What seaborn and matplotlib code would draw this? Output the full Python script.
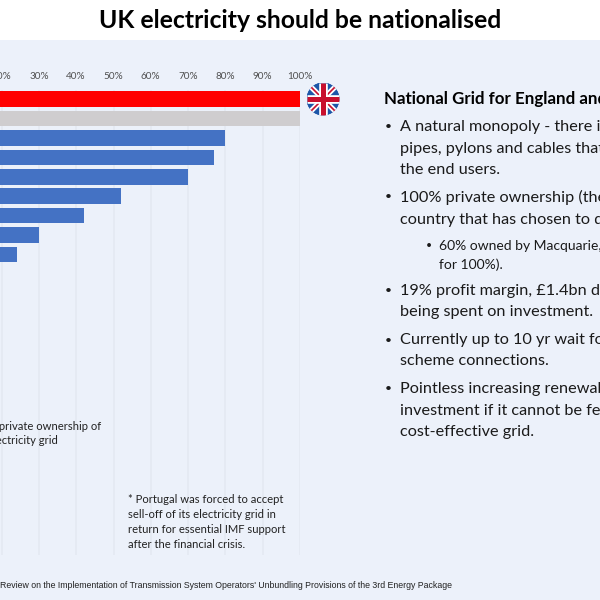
import matplotlib
matplotlib.use("Agg")
import matplotlib.pyplot as plt
from matplotlib.patches import Circle
import numpy as np
import pandas as pd
import seaborn as sns

# Category names lie off the left edge of the reference, so rows are numbered.
categories = [f"Country {i:02d}" for i in range(1, 25)]
values = [100, 100, 80, 77, 70, 52, 42, 30, 24] + [0] * 15
bar_colors = ["#FF0000", "#CFCDCF"] + ["#4472C4"] * 22
x_ticks = [0, 10, 20, 30, 40, 50, 60, 70, 80, 90, 100]
x_labels = [f"{t}%" for t in x_ticks]

title = "UK electricity should be nationalised"
heading = "National Grid for England and Wales"
note_left = "% private ownership of\nelectricity grid"
note_portugal = ("* Portugal was forced to accept\nsell-off of its electricity grid in\n"
                 "return for essential IMF support\nafter the financial crisis.")
source = ("Review on the Implementation of Transmission System Operators' "
          "Unbundling Provisions of the 3rd Energy Package")
MAIN, SUB = 11.7, 10.0
bullets = [
    (400, 127, MAIN, "A natural monopoly - there is only one set of", True),
    (400, 149, MAIN, "pipes, pylons and cables that connect to", False),
    (400, 170, MAIN, "the end users.", False),
    (400, 197, MAIN, "100% private ownership (the only major", True),
    (400, 219, MAIN, "country that has chosen to do so).", False),
    (439, 246, SUB, "60% owned by Macquarie, which has bid", True),
    (439, 265, SUB, "for 100%).", False),
    (400, 291, MAIN, "19% profit margin, £1.4bn dividends, too little", True),
    (400, 312, MAIN, "being spent on investment.", False),
    (400, 340, MAIN, "Currently up to 10 yr wait for new", True),
    (400, 361, MAIN, "scheme connections.", False),
    (400, 389, MAIN, "Pointless increasing renewable energy", True),
    (400, 411, MAIN, "investment if it cannot be fed into a", False),
    (400, 432, MAIN, "cost-effective grid.", False),
]

BG = "#ECF1FA"
FONT = ["Lato", "DejaVu Sans"]
sns.set_theme(style="white")
plt.rcParams["font.family"] = FONT

W = H = 600
fig = plt.figure(figsize=(6, 6), dpi=100, facecolor="white")
def fx(x): return x / W
def fy(y): return 1 - y / H

# Pale slide panel
panel = fig.add_axes([0, 0, 1, fy(40)])
panel.set_facecolor(BG)
panel.set_xticks([]); panel.set_yticks([])
for s in panel.spines.values():
    s.set_visible(False)

# Plot area: the 0% origin falls left of the canvas, as in the reference
x0, x100, top, bottom = -73.0, 300.0, 89.5, 555.0
ax = fig.add_axes([fx(x0), fy(bottom), fx(x100 - x0), (bottom - top) / H], facecolor="none")
df = pd.DataFrame({"category": categories, "value": values})
sns.barplot(data=df, x="value", y="category", hue="category", palette=bar_colors,
            legend=False, width=0.8, saturation=1, linewidth=0, ax=ax, zorder=3)
ax.set_xlim(0, 100)
ax.set_ylim(len(categories) - 0.5, -0.5)
ax.set_xticks(x_ticks, x_labels)
ax.xaxis.tick_top()
ax.tick_params(axis="x", length=0, labelsize=7.2, labelcolor="#505050", pad=6)
ax.tick_params(axis="y", length=0, labelleft=False)
ax.set_xlabel(""); ax.set_ylabel("")
ax.grid(axis="x", color="#E4E8F1", lw=1.1, zorder=0)
ax.grid(axis="y", visible=False)
for s in ax.spines.values():
    s.set_visible(False)

# Round Union Jack badge
flag = fig.add_axes([fx(306.5), fy(115.5), 33 / W, 33 / H], facecolor="#1D56A8")
flag.set_xlim(-1, 1); flag.set_ylim(-1, 1); flag.axis("off")
clip = Circle((0, 0), 1, transform=flag.transData)
disc = flag.add_patch(Circle((0, 0), 1, color="#1D56A8", zorder=0))
arts = [disc]
for xs, ys in [((-1, 1), (-1, 1)), ((-1, 1), (1, -1))]:
    arts += flag.plot(xs, ys, color="white", lw=3.8, solid_capstyle="butt", zorder=1)
    arts += flag.plot(xs, ys, color="#C8102E", lw=1.2, solid_capstyle="butt", zorder=2)
for xs, ys, lw, c, z in [((-1, 1), (0, 0), 6.2, "white", 3), ((0, 0), (-1, 1), 6.2, "white", 3),
                         ((-1, 1), (0, 0), 3.6, "#C8102E", 4), ((0, 0), (-1, 1), 3.6, "#C8102E", 4)]:
    arts += flag.plot(xs, ys, color=c, lw=lw, solid_capstyle="butt", zorder=z)
for a in arts:
    a.set_clip_path(clip)

# Text
fig.text(0.5, fy(20.5), title, ha="center", va="center", fontsize=17.85, fontweight="bold", color="black")
fig.text(fx(-13), fy(420.5), note_left, ha="left", va="top", fontsize=8.1, color="#222222", linespacing=1.44)
fig.text(fx(127.5), fy(494), note_portugal, ha="left", va="top", fontsize=8.1, color="#222222", linespacing=1.44)
fig.text(fx(0), fy(586), source, ha="left", va="center", fontsize=6.3, color="#222222", family="Liberation Sans")
fig.text(fx(384), fy(99), heading, ha="left", va="center", fontsize=12.2, fontweight="bold", color="black")
for x, y, size, line, mark in bullets:
    fig.text(fx(x), fy(y), line, ha="left", va="center", fontsize=size, color="#1A1A1A")
    if mark:
        fig.text(fx(x - 15 if size == MAIN else x - 13), fy(y), "•", ha="left", va="center",
                 fontsize=size * 0.75, color="#1A1A1A")

fig.savefig("out.png", dpi=100, facecolor="white")
